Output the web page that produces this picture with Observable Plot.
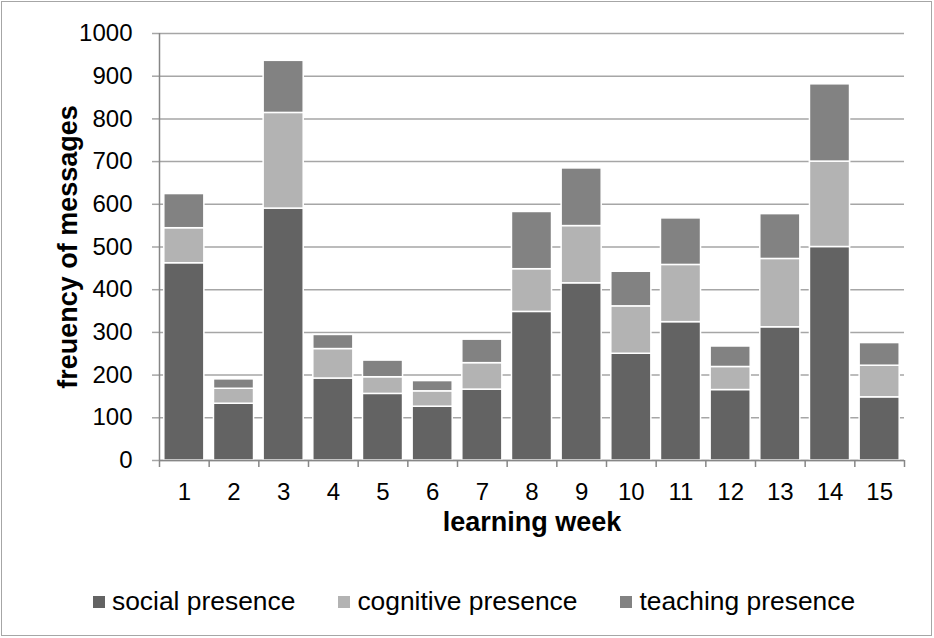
<!DOCTYPE html>
<html>
<head>
<meta charset="utf-8">
<script src="https://cdn.jsdelivr.net/npm/d3@7"></script>
<script src="https://cdn.jsdelivr.net/npm/@observablehq/plot@0.6"></script>
<style>
  body { margin: 0; background: #ffffff; font-family: "Liberation Sans", Arial, sans-serif; }
  #wrap { position: relative; width: 934px; height: 638px; overflow: hidden; background: #fff; }
  #border { position: absolute; left: 1px; top: 1px; width: 929px; height: 633px; border: 1.5px solid #a6a6a6; pointer-events: none; }
  #chart { position: absolute; left: 0; top: 0; }
  #legend { position: absolute; top: 586px; left: 93px; display: flex; gap: 43px; font-size: 26.4px; color: #000; white-space: nowrap; }
  .item { display: flex; align-items: center; }
  .sw { width: 12px; height: 12px; margin-right: 7px; display: inline-block; }
</style>
</head>
<body>
<div id="wrap">
  <div id="chart"></div>
  <div id="legend"></div>
  <div id="border"></div>
</div>
<script>
const weeks = [1, 2, 3, 4, 5, 6, 7, 8, 9, 10, 11, 12, 13, 14, 15];
const social = [462, 133, 590, 192, 156, 126, 166, 348, 415, 250, 324, 165, 312, 500, 148];
const cognitive = [82, 35, 224, 69, 39, 36, 62, 100, 134, 111, 134, 54, 160, 200, 74];
const teaching = [80, 22, 122, 33, 39, 24, 55, 134, 135, 81, 109, 48, 105, 181, 53];
const seriesNames = ["social presence", "cognitive presence", "teaching presence"];
const seriesColors = ["#636363", "#b3b3b3", "#828282"];
const yTicks = [0, 100, 200, 300, 400, 500, 600, 700, 800, 900, 1000];
const xTitle = "learning week";
const yTitle = "freuency of messages";

const seriesValues = [social, cognitive, teaching];
const table = [];
weeks.forEach((w, i) => {
  seriesNames.forEach((s, k) => table.push({week: w, series: s, value: seriesValues[k][i]}));
});
const bounds = weeks.map(w => w - 0.5).concat([weeks[weeks.length - 1] + 0.5]);
const axisColor = "#868686";
const gridColor = "#a6a6a6";

const chart = Plot.plot({
  width: 934,
  height: 570,
  marginLeft: 159,
  marginRight: 30,
  marginTop: 33,
  marginBottom: 110,
  style: { fontFamily: "Liberation Sans, Arial, sans-serif", background: "transparent", color: "#000" },
  x: { domain: [bounds[0], bounds[bounds.length - 1]], label: null },
  y: { domain: [0, 1000], label: null },
  color: { domain: seriesNames, range: seriesColors },
  marks: [
    Plot.gridY(yTicks, { stroke: gridColor, strokeOpacity: 1, strokeWidth: 1.5 }),
    Plot.axisY(yTicks, { tickSize: 7, tickPadding: 20, fontSize: 24, tickFormat: d => String(d), stroke: gridColor, strokeOpacity: 1, strokeWidth: 1.5, label: null }),
    Plot.rectY(table, Plot.stackY({
      x1: d => d.week - 0.5,
      x2: d => d.week + 0.5,
      y: "value",
      fill: "series",
      order: seriesNames,
      insetLeft: 4.8,
      insetRight: 4.8,
      stroke: "#ffffff",
      strokeWidth: 1.5
    })),
    Plot.ruleX([bounds[0]], { y1: 0, y2: 1000, stroke: axisColor, strokeWidth: 1.5 }),
    Plot.ruleY([0], { x1: bounds[0], x2: bounds[bounds.length - 1], stroke: axisColor, strokeWidth: 1.5 }),
    Plot.axisX(bounds, { tickSize: 7, tickFormat: () => "", stroke: axisColor, strokeWidth: 1.5, label: null }),
    Plot.axisX(weeks, { tickSize: 0, tickPadding: 22, fontSize: 24, label: null }),
    Plot.text([xTitle], { frameAnchor: "bottom", dy: 70, fontSize: 27, fontWeight: "bold", fill: "#000" }),
    Plot.text([yTitle], { frameAnchor: "left", textAnchor: "middle", rotate: -90, dx: -91, fontSize: 27, fontWeight: "bold", fill: "#000" })
  ]
});
document.getElementById("chart").appendChild(chart);

const legend = document.getElementById("legend");
seriesNames.forEach((s, i) => {
  const item = document.createElement("div");
  item.className = "item";
  const sw = document.createElement("span");
  sw.className = "sw";
  sw.style.background = seriesColors[i];
  const lab = document.createElement("span");
  lab.textContent = s;
  item.appendChild(sw);
  item.appendChild(lab);
  legend.appendChild(item);
});
</script>
</body>
</html>
